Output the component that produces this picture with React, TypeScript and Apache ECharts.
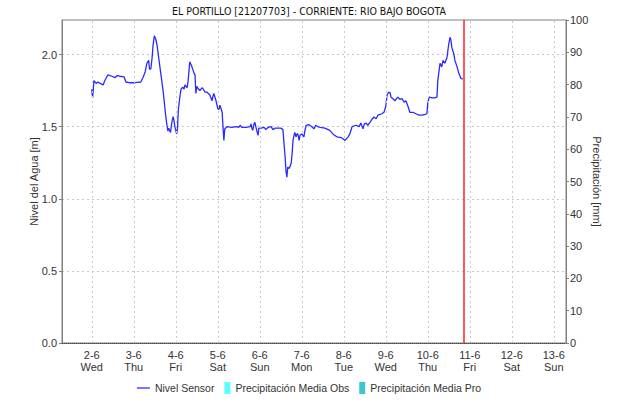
import React, { useEffect, useRef } from "react";
import * as echarts from "echarts";

const chartTitle = "EL PORTILLO [21207703] - CORRIENTE: RIO BAJO BOGOTA";
const weekdayNames = ["Sun", "Mon", "Tue", "Wed", "Thu", "Fri", "Sat"];
const axisStart = "2021-06-01 07:00";
const axisEnd = "2021-06-13 07:00";
const nowMarker = "2021-06-10 20:45";
const dayTicks = [
  "2021-06-02 00:00", "2021-06-03 00:00", "2021-06-04 00:00", "2021-06-05 00:00",
  "2021-06-06 00:00", "2021-06-07 00:00", "2021-06-08 00:00", "2021-06-09 00:00",
  "2021-06-10 00:00", "2021-06-11 00:00", "2021-06-12 00:00", "2021-06-13 00:00"
];

const nivelTimes = [
  "2021-06-02 00:00", "2021-06-02 00:30", "2021-06-02 01:15", "2021-06-02 02:30", "2021-06-02 03:30",
  "2021-06-02 04:45", "2021-06-02 06:30", "2021-06-02 07:30", "2021-06-02 09:15", "2021-06-02 11:30",
  "2021-06-02 13:15", "2021-06-02 14:30", "2021-06-02 16:00", "2021-06-02 18:30", "2021-06-02 19:30",
  "2021-06-02 21:45", "2021-06-03 00:45", "2021-06-03 04:00", "2021-06-03 05:15", "2021-06-03 06:30",
  "2021-06-03 07:30", "2021-06-03 08:30", "2021-06-03 09:00", "2021-06-03 09:45", "2021-06-03 10:30",
  "2021-06-03 11:00", "2021-06-03 11:45", "2021-06-03 12:30", "2021-06-03 13:15", "2021-06-03 15:00",
  "2021-06-03 16:45", "2021-06-03 18:30", "2021-06-03 19:30", "2021-06-03 20:00", "2021-06-03 21:00",
  "2021-06-03 21:45", "2021-06-03 22:30", "2021-06-03 23:00", "2021-06-03 23:30", "2021-06-04 00:30",
  "2021-06-04 01:00", "2021-06-04 01:30", "2021-06-04 02:30", "2021-06-04 03:00", "2021-06-04 04:00",
  "2021-06-04 04:45", "2021-06-04 05:15", "2021-06-04 06:30", "2021-06-04 07:00", "2021-06-04 07:30",
  "2021-06-04 08:00", "2021-06-04 08:45", "2021-06-04 09:15", "2021-06-04 10:30", "2021-06-04 11:00",
  "2021-06-04 11:30", "2021-06-04 12:00", "2021-06-04 12:45", "2021-06-04 13:45", "2021-06-04 15:00",
  "2021-06-04 15:30", "2021-06-04 16:45", "2021-06-04 17:45", "2021-06-04 19:30", "2021-06-04 20:45",
  "2021-06-04 21:15", "2021-06-04 21:45", "2021-06-04 23:00", "2021-06-05 00:00", "2021-06-05 00:45",
  "2021-06-05 01:15", "2021-06-05 02:30", "2021-06-05 03:00", "2021-06-05 03:30", "2021-06-05 04:00",
  "2021-06-05 05:15", "2021-06-05 08:00", "2021-06-05 10:30", "2021-06-05 12:00", "2021-06-05 12:45",
  "2021-06-05 13:45", "2021-06-05 16:00", "2021-06-05 18:30", "2021-06-05 19:00", "2021-06-05 19:30",
  "2021-06-05 20:00", "2021-06-05 20:45", "2021-06-05 21:15", "2021-06-05 21:45", "2021-06-05 23:00",
  "2021-06-05 23:30", "2021-06-06 00:45", "2021-06-06 02:30", "2021-06-06 03:30", "2021-06-06 04:45",
  "2021-06-06 06:30", "2021-06-06 07:30", "2021-06-06 08:45", "2021-06-06 10:30", "2021-06-06 12:00",
  "2021-06-06 13:15", "2021-06-06 13:45", "2021-06-06 14:30", "2021-06-06 15:00", "2021-06-06 15:30",
  "2021-06-06 16:00", "2021-06-06 16:45", "2021-06-06 17:30", "2021-06-06 18:00", "2021-06-06 18:30",
  "2021-06-06 19:00", "2021-06-06 20:00", "2021-06-06 20:45", "2021-06-06 21:15", "2021-06-06 21:45",
  "2021-06-06 22:30", "2021-06-06 23:00", "2021-06-07 00:00", "2021-06-07 01:15", "2021-06-07 01:45",
  "2021-06-07 02:30", "2021-06-07 04:00", "2021-06-07 05:45", "2021-06-07 07:00", "2021-06-07 08:00",
  "2021-06-07 09:15", "2021-06-07 10:30", "2021-06-07 13:15", "2021-06-07 16:00", "2021-06-07 17:45",
  "2021-06-07 20:00", "2021-06-07 22:30", "2021-06-08 00:45", "2021-06-08 02:30", "2021-06-08 03:30",
  "2021-06-08 04:45", "2021-06-08 07:00", "2021-06-08 08:45", "2021-06-08 09:45", "2021-06-08 11:00",
  "2021-06-08 11:45", "2021-06-08 12:45", "2021-06-08 13:45", "2021-06-08 15:00", "2021-06-08 16:00",
  "2021-06-08 17:15", "2021-06-08 18:30", "2021-06-08 19:30", "2021-06-08 20:45", "2021-06-08 21:45",
  "2021-06-08 23:00", "2021-06-09 00:00", "2021-06-09 00:45", "2021-06-09 01:45", "2021-06-09 02:30",
  "2021-06-09 03:00", "2021-06-09 04:00", "2021-06-09 05:15", "2021-06-09 06:30", "2021-06-09 07:00",
  "2021-06-09 08:00", "2021-06-09 09:15", "2021-06-09 10:30", "2021-06-09 11:30", "2021-06-09 12:45",
  "2021-06-09 13:45", "2021-06-09 15:30", "2021-06-09 17:15", "2021-06-09 19:00", "2021-06-09 20:45",
  "2021-06-09 22:30", "2021-06-09 23:30", "2021-06-10 00:00", "2021-06-10 00:45", "2021-06-10 02:30",
  "2021-06-10 04:00", "2021-06-10 05:15", "2021-06-10 05:45", "2021-06-10 07:00", "2021-06-10 08:00",
  "2021-06-10 08:45", "2021-06-10 09:45", "2021-06-10 11:00", "2021-06-10 12:00", "2021-06-10 12:45",
  "2021-06-10 13:15", "2021-06-10 13:45", "2021-06-10 15:00", "2021-06-10 15:30", "2021-06-10 16:45",
  "2021-06-10 17:45", "2021-06-10 19:00", "2021-06-10 20:00"
];

const nivelValues = [
  1.76, 1.70, 1.82, 1.80, 1.81,
  1.80, 1.79, 1.82, 1.86, 1.85,
  1.84, 1.855, 1.85, 1.845, 1.81,
  1.805, 1.805, 1.81, 1.84, 1.88,
  1.94, 1.96, 1.90, 1.90, 1.98,
  2.06, 2.13, 2.11, 2.07, 1.91,
  1.75, 1.55, 1.47, 1.49, 1.46,
  1.53, 1.57, 1.54, 1.50, 1.45,
  1.49, 1.62, 1.72, 1.76, 1.775,
  1.76, 1.79, 1.77, 1.81, 1.88,
  1.95, 1.93, 1.915, 1.87, 1.86,
  1.73, 1.78, 1.765, 1.75, 1.77,
  1.765, 1.74, 1.74, 1.72, 1.68,
  1.71, 1.73, 1.68, 1.625, 1.62,
  1.65, 1.60, 1.50, 1.405, 1.485,
  1.50, 1.495, 1.50, 1.495, 1.51,
  1.495, 1.495, 1.50, 1.52, 1.49,
  1.475, 1.52, 1.53, 1.50, 1.44,
  1.49, 1.49, 1.495, 1.48, 1.495,
  1.50, 1.48, 1.49, 1.49, 1.49,
  1.48, 1.40, 1.29, 1.19, 1.15,
  1.22, 1.21, 1.23, 1.25, 1.315,
  1.405, 1.46, 1.43, 1.45, 1.45,
  1.405, 1.44, 1.45, 1.43, 1.47,
  1.51, 1.515, 1.50, 1.485, 1.51,
  1.50, 1.495, 1.49, 1.475, 1.45,
  1.43, 1.425, 1.405, 1.43, 1.45,
  1.50, 1.51, 1.50, 1.525, 1.485,
  1.52, 1.525, 1.51, 1.53, 1.55,
  1.567, 1.555, 1.58, 1.585, 1.59,
  1.60, 1.64, 1.72, 1.74, 1.735,
  1.705, 1.695, 1.68, 1.70, 1.705,
  1.69, 1.695, 1.67, 1.68, 1.64,
  1.60, 1.60, 1.59, 1.58, 1.58,
  1.585, 1.59, 1.66, 1.705, 1.70,
  1.70, 1.705, 1.82, 1.94, 1.915,
  1.96, 1.94, 1.98, 2.075, 2.12,
  2.10, 2.05, 2.00, 1.96, 1.915,
  1.87, 1.835, 1.83
];

const precipObs: number[] = [];
const precipPro: number[] = [];

const levelTicks = [0, 0.5, 1.0, 1.5, 2.0];

const FONT = "'Liberation Sans', Arial, sans-serif";
const TITLE_FONT = "'DejaVu Sans Condensed', 'Liberation Sans', Arial, sans-serif";

function toTime(s: string): number {
  return new Date(s.replace(" ", "T")).getTime();
}

export default function App() {
  const ref = useRef<HTMLDivElement>(null);

  useEffect(() => {
    if (!ref.current) return;
    const chart = echarts.init(ref.current, null, { renderer: "svg" });
    const gridColor = "#c8c8c8";
    const axisColor = "#808080";
    const textColor = "#333";
    const dayTickTimes = dayTicks.map(toTime);
    const barIcon = "path://M0,6h0.1v0.1h-0.1z M7,0h6v12h-6z";

    chart.setOption({
      animation: false,
      textStyle: { fontFamily: FONT },
      title: {
        text: chartTitle,
        left: "center",
        top: 0,
        textStyle: { fontFamily: TITLE_FONT, fontSize: 10.5, fontWeight: "normal", color: "#111" },
      },
      grid: {
        left: 62,
        right: 52,
        top: 20,
        bottom: 60,
        show: true,
        borderColor: axisColor,
        borderWidth: 1,
        backgroundColor: "transparent",
      },
      legend: {
        top: 377,
        left: "center",
        itemWidth: 13,
        itemHeight: 12,
        itemGap: 3,
        symbolKeepAspect: true,
        textStyle: { fontFamily: FONT, fontSize: 10.5, color: textColor },
        data: [
          { name: "Nivel Sensor", icon: "path://M0,0h14v1.4h-14z" },
          { name: "Precipitación Media Obs", icon: barIcon },
          { name: "Precipitación Media Pro", icon: barIcon },
        ],
      },
      xAxis: {
        type: "value",
        min: toTime(axisStart),
        max: toTime(axisEnd),
        axisLine: { show: true, lineStyle: { color: "#444", type: "dotted", width: 1 } },
        axisTick: { show: false },
        splitLine: { show: false },
        axisLabel: {
          fontFamily: FONT,
          fontSize: 11,
          color: textColor,
          margin: 6,
          lineHeight: 12,
          hideOverlap: false,
          customValues: dayTickTimes,
          formatter: (v: number) => {
            const d = new Date(v);
            return d.getDate() + "-" + (d.getMonth() + 1) + "\n" + weekdayNames[d.getDay()];
          },
        },
      },
      yAxis: [
        {
          type: "value",
          min: 0,
          max: 2.24,
          interval: 0.5,
          position: "left",
          name: "Nivel del Agua [m]",
          nameLocation: "middle",
          nameGap: 23,
          nameMoveOverlap: false,
          nameTextStyle: { fontFamily: FONT, fontSize: 11, color: textColor },
          axisLine: { show: true, lineStyle: { color: axisColor } },
          axisTick: { show: true, length: 3, lineStyle: { color: axisColor }, customValues: levelTicks },
          axisLabel: {
            fontFamily: FONT,
            fontSize: 11,
            color: textColor,
            margin: 5,
            customValues: levelTicks,
            formatter: (v: number) => v.toFixed(1),
          },
          splitLine: { show: true, lineStyle: { color: gridColor, type: [2, 3], width: 1 } },
        },
        {
          type: "value",
          min: 0,
          max: 100,
          interval: 10,
          position: "right",
          name: "Precipitación [mm]",
          nameLocation: "middle",
          nameRotate: -90,
          nameGap: 25,
          nameMoveOverlap: false,
          nameTextStyle: { fontFamily: FONT, fontSize: 11, color: textColor },
          axisLine: { show: true, lineStyle: { color: axisColor } },
          axisTick: { show: true, length: 3, lineStyle: { color: axisColor } },
          axisLabel: { fontFamily: FONT, fontSize: 11, color: textColor, margin: 4 },
          splitLine: { show: false },
        },
      ],
      series: [
        {
          name: "Nivel Sensor",
          type: "line",
          yAxisIndex: 0,
          symbol: "none",
          showSymbol: false,
          lineStyle: { color: "#2a2aff", width: 1.3 },
          itemStyle: { color: "#2a2aff" },
          data: nivelTimes.map((t, i) => [toTime(t), nivelValues[i]]),
          markLine: {
            silent: true,
            symbol: "none",
            label: { show: false },
            lineStyle: { color: "#ff2020", type: "solid", width: 1.5 },
            data: [{ xAxis: toTime(nowMarker) }],
          },
          z: 3,
        },
        {
          name: "dayGrid",
          type: "line",
          yAxisIndex: 0,
          data: [],
          silent: true,
          markLine: {
            silent: true,
            symbol: "none",
            label: { show: false },
            lineStyle: { color: gridColor, type: [2, 3], width: 1 },
            data: dayTickTimes.map((t) => ({ xAxis: t })),
          },
          z: 1,
        },
        {
          name: "Precipitación Media Obs",
          type: "bar",
          yAxisIndex: 1,
          itemStyle: { color: "#5cffff" },
          data: precipObs,
        },
        {
          name: "Precipitación Media Pro",
          type: "bar",
          yAxisIndex: 1,
          itemStyle: { color: "#3cc8c8" },
          data: precipPro,
        },
      ],
    });

    return () => chart.dispose();
  }, []);

  return (
    <div
      ref={ref}
      style={{ position: "fixed", left: 0, top: 0, width: 618, height: 403, background: "#fff" }}
    />
  );
}
